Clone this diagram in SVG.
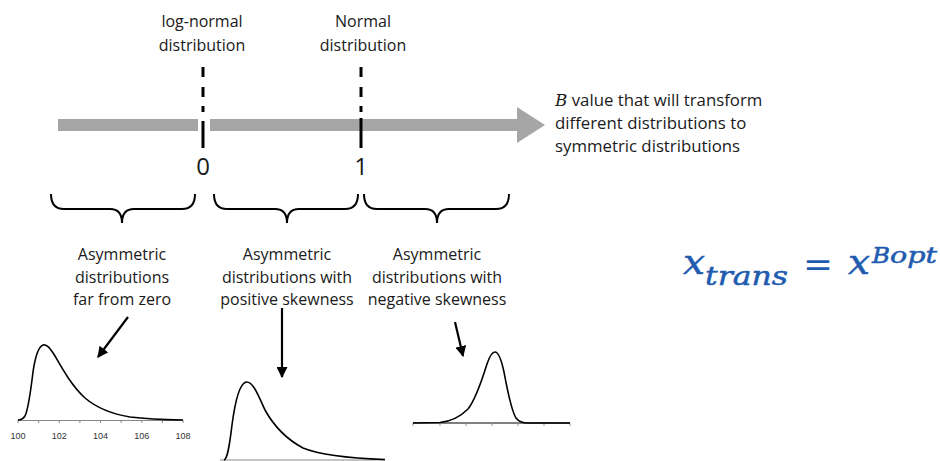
<svg xmlns="http://www.w3.org/2000/svg" width="940" height="461" viewBox="0 0 940 461">
<defs>
<marker id="ah" viewBox="0 0 10 10" refX="9" refY="5" markerWidth="5" markerHeight="5" orient="auto" markerUnits="strokeWidth">
<path d="M0,0 L10,5 L0,10 z" fill="#000"/>
</marker>
</defs>
<style>
text{font-variant-ligatures:none}
.t{font-family:"Open Sans",Lato,sans-serif;font-size:16px;fill:#1a1a1a;text-anchor:middle}
.tl{font-family:"Open Sans",Lato,sans-serif;font-size:16.8px;fill:#1a1a1a}
.num{font-family:"Open Sans",Lato,sans-serif;font-size:24px;fill:#1a1a1a;text-anchor:middle}
.tick{font-family:"Liberation Sans",Arial,sans-serif;font-size:9px;fill:#333;text-anchor:middle}
.brace{fill:none;stroke:#000;stroke-width:2}
.vl{stroke:#000;stroke-width:3}
.curve{fill:none;stroke:#000;stroke-width:1.6}
.axis{stroke:#888;stroke-width:1.2}
.arr{stroke:#000;stroke-width:2.2;marker-end:url(#ah)}
.m{font-family:"DejaVu Serif","Liberation Serif",serif;font-style:italic;fill:#1f5cb0;stroke:#1f5cb0;stroke-width:0.5}
</style>
<rect width="940" height="461" fill="#fff"/>

<g id="axis-arrow">
<rect x="58" y="119" width="140" height="12" fill="#a6a6a6"/>
<path d="M210,119 L517,119 L517,107 L545,125 L517,143 L517,131 L210,131 z" fill="#a6a6a6"/>
</g>

<g id="marker-0">
<line class="vl" x1="203" y1="67" x2="203" y2="77"/>
<line class="vl" x1="203" y1="87" x2="203" y2="97"/>
<line class="vl" x1="203" y1="106" x2="203" y2="112"/>
<line class="vl" x1="203" y1="121" x2="203" y2="148"/>
<text class="t" x="202" y="27">log-normal</text>
<text class="t" x="202" y="51">distribution</text>
<text class="num" x="203" y="175">0</text>
</g>

<g id="marker-1">
<line class="vl" x1="361" y1="67" x2="361" y2="77"/>
<line class="vl" x1="361" y1="87" x2="361" y2="97"/>
<line class="vl" x1="361" y1="106" x2="361" y2="112"/>
<line class="vl" x1="361" y1="118" x2="361" y2="148"/>
<text class="t" x="363" y="27">Normal</text>
<text class="t" x="363" y="51">distribution</text>
<text class="num" x="361" y="175">1</text>
</g>

<g id="axis-label">
<text class="tl" x="555" y="106"><tspan font-family="'DejaVu Serif','Liberation Serif',serif" font-style="italic">B</tspan> value that will transform</text>
<text class="tl" x="555" y="129">different distributions to</text>
<text class="tl" x="555" y="152">symmetric distributions</text>
</g>

<g id="brace-1">
<path class="brace" d="M51,194 Q51,209 64,209 L110,209 Q122,209 122,223 Q122,209 134,209 L182,209 Q195,209 195,194"/>
<text class="t" x="122" y="260">Asymmetric</text>
<text class="t" x="122" y="283">distributions</text>
<text class="t" x="122" y="305">far from zero</text>
</g>

<g id="brace-2">
<path class="brace" d="M214,194 Q214,209 227,209 L275,209 Q287,209 287,223 Q287,209 299,209 L345,209 Q358,209 358,194"/>
<text class="t" x="287" y="260">Asymmetric</text>
<text class="t" x="287" y="283">distributions with</text>
<text class="t" x="287" y="305">positive skewness</text>
</g>

<g id="brace-3">
<path class="brace" d="M364,194 Q364,209 377,209 L425,209 Q437,209 437,223 Q437,209 449,209 L496,209 Q509,209 509,194"/>
<text class="t" x="437" y="260">Asymmetric</text>
<text class="t" x="437" y="283">distributions with</text>
<text class="t" x="437" y="305">negative skewness</text>
</g>

<g id="plot-1">
<line class="axis" x1="18" y1="420.5" x2="183" y2="420.5"/>
<path stroke="#888" stroke-width="1" d="M18,420v3M38.6,420v3M59.3,420v3M79.9,420v3M100.5,420v3M121.1,420v3M141.8,420v3M162.4,420v3M183,420v3"/>
<path class="curve" d="M18,420 C21,420 23,419 25,416 C28,410 30,397 33,372 C35,358 38,347 43,345 C47,344 50,348 55,356 C63,370 72,386 85,398 C98,409 112,414 130,417 C150,419.5 170,419.8 183,420"/>
<text class="tick" x="18" y="439">100</text>
<text class="tick" x="59.3" y="439">102</text>
<text class="tick" x="100.5" y="439">104</text>
<text class="tick" x="141.8" y="439">106</text>
<text class="tick" x="183" y="439">108</text>
</g>

<g id="plot-2">
<line class="axis" x1="220" y1="460" x2="385" y2="460"/>
<path class="curve" d="M224,460 C227,459 229,450 232,425 C235,402 239,384 246,382 C253,381 258,395 265,410 C275,428 288,440 303,448 C320,455 345,458 385,459.5"/>
</g>

<g id="plot-3">
<line stroke="#000" stroke-width="1.2" x1="413" y1="423" x2="570" y2="423"/>
<path stroke="#999" stroke-width="1" d="M413,423v3M440,423v3M466,423v3M492,423v3M518,423v3M544,423v3M570,423v3"/>
<path class="curve" d="M413,423 L440,422.5 C450,421.5 460,417 468,409 C476,399 482,380 487,364 C490,355 493,352 495,352 C498,352 501,358 504,372 C507,388 511,410 516,418 C519,422 522,423 528,423 L570,423"/>
</g>

<g id="connectors">
<line class="arr" x1="128" y1="317" x2="98" y2="357"/>
<line class="arr" x1="282" y1="308" x2="282" y2="377"/>
<line class="arr" x1="455" y1="322" x2="463" y2="356"/>
</g>

<g id="formula">
<text class="m" x="683" y="274" font-size="36" textLength="22" lengthAdjust="spacingAndGlyphs">x</text>
<text class="m" x="705" y="285" font-size="26" textLength="83" lengthAdjust="spacingAndGlyphs">trans</text>
<text x="803" y="276" font-family="'DejaVu Sans',sans-serif" font-size="34" fill="#1f5cb0" textLength="30" lengthAdjust="spacingAndGlyphs">=</text>
<text class="m" x="848" y="274" font-size="36" textLength="22" lengthAdjust="spacingAndGlyphs">x</text>
<text class="m" x="872" y="263" font-size="22" textLength="18" lengthAdjust="spacingAndGlyphs">B</text>
<text class="m" x="890" y="263" font-size="22" textLength="47" lengthAdjust="spacingAndGlyphs">opt</text>
</g>
</svg>
